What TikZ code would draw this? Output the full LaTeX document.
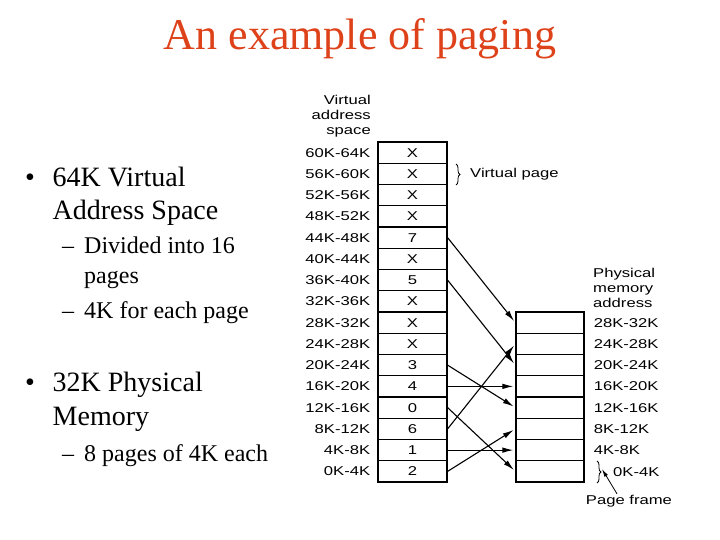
\documentclass[tikz,border=0pt]{standalone}
\usepackage{fontspec}
\setmainfont{Liberation Serif}
\newfontfamily\dg[FakeStretch=1.3]{Liberation Sans}
\usetikzlibrary{arrows.meta,decorations.pathreplacing}
\definecolor{titlered}{RGB}{222,66,26}
\begin{document}
\begin{tikzpicture}[x=1pt,y=-1pt,
  dgfont/.style={font=\dg\fontsize{12.8}{15}\selectfont},
  cell/.style={draw,line width=1.2pt,minimum height=21.25pt,inner sep=0pt,dgfont},
  vcell/.style={cell,minimum width=69pt},
  pcell/.style={cell,minimum width=68pt},
  lab/.style={dgfont,inner sep=0pt},
  map/.style={line width=1.1pt,-{Latex[length=11pt,width=5.5pt]},shorten >=2pt},
  big/.style={font=\fontsize{28}{33}\selectfont,anchor=base west,inner sep=0pt},
  small/.style={font=\fontsize{24}{29}\selectfont,anchor=base west,inner sep=0pt},
  bul/.style={font=\fontsize{28}{33}\selectfont,anchor=base,inner sep=0pt}]
\useasboundingbox (0,0) rectangle (720,540);
% title
\node[font=\fontsize{44}{50}\selectfont,text=titlered,anchor=base,inner sep=0pt] (title) at (360,50) {An example of paging};
% left text
\node[bul] (b1) at (30,187) {•};
\node[big] (t1) at (52.5,187) {64K Virtual};
\node[big] (t2) at (52.5,219.5) {Address Space};
\node[small] (d1) at (62,254) {–};
\node[small] (s1) at (84,254) {Divided into 16};
\node[small] (s2) at (84,283) {pages};
\node[small] (d2) at (62,318) {–};
\node[small] (s3) at (84,318) {4K for each page};
\node[bul] (b2) at (30,391.7) {•};
\node[big] (t3) at (52.5,391.7) {32K Physical};
\node[big] (t4) at (52.5,425) {Memory};
\node[small] (d3) at (62,461.7) {–};
\node[small] (s4) at (84,461.7) {8 pages of 4K each};
% virtual table
\foreach \k/\t in {0/2,1/1,2/6,3/0,4/4,5/3,6/X,7/X,8/X,9/5,10/X,11/7,12/X,13/X,14/X,15/X}{
  \node[vcell] (v\k) at (412.5,{482-21.25*(\k+0.5)}) {\t};
  \pgfmathtruncatemacro\lo{4*\k}
  \pgfmathtruncatemacro\hi{4*\k+4}
  \node[lab,anchor=east] (vl\k) at ([xshift=-7pt]v\k.west) {\lo K-\hi K};
}
\node[lab,align=right,anchor=east] (vhead) at (371,116.5) {Virtual\\address\\space};
% physical table
\foreach \k in {0,...,7}{
  \node[pcell] (p\k) at (550,{482-21.25*(\k+0.5)}) {};
}
\foreach \k in {1,...,7}{
  \pgfmathtruncatemacro\lo{4*\k}
  \pgfmathtruncatemacro\hi{4*\k+4}
  \node[lab,anchor=west] (pl\k) at ([xshift=9pt]p\k.east) {\lo K-\hi K};
}
\node[lab,anchor=west] (pl0) at (613,472) {0K-4K};
\node[lab,align=left,anchor=west] (phead) at (593,287.5) {Physical\\memory\\address};
% braces
\draw[line width=0.8pt,decorate,decoration={brace,amplitude=4pt}] (456,164) -- (456,185);
\node[lab,anchor=west] (vp) at (470,174) {Virtual page};
\draw[line width=0.8pt,decorate,decoration={brace,amplitude=4pt}] (597,461) -- (597,483);
\coordinate (ft) at (602,469);
\node[lab] (pf) at (629,501) {Page frame};
\draw[line width=0.8pt,-{Latex[length=8pt,width=4pt]}] ([xshift=-12pt,yshift=1pt]pf.north) -- (ft);
% mapping arrows
\foreach \a/\b in {11/7,9/5,5/3,4/4,3/0,2/6,1/1,0/2}
  \draw[map] (v\a.east) -- (p\b.west);
\end{tikzpicture}
\end{document}
